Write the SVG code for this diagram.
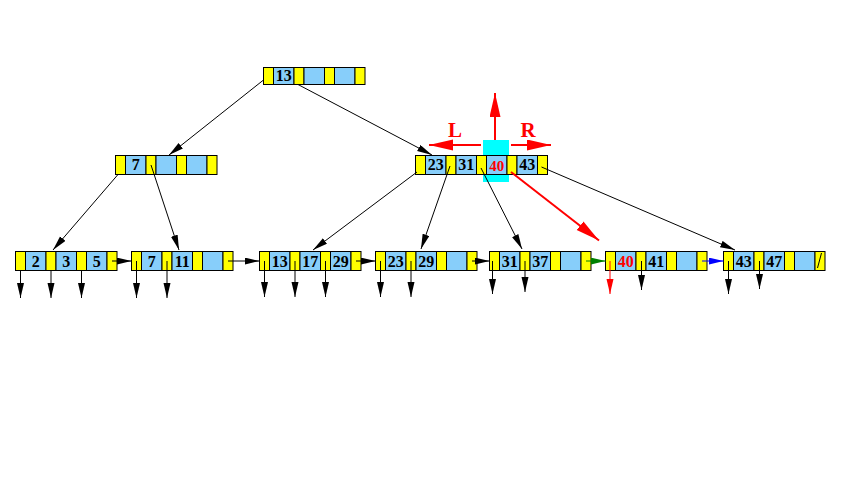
<svg xmlns="http://www.w3.org/2000/svg" width="852" height="481" viewBox="0 0 852 481">
<defs>
<style>
.y{fill:#ffff00;stroke:#000;stroke-width:1}
.b{fill:#87cefa;stroke:#000;stroke-width:1}
.t{font-family:"Liberation Serif","Times New Roman",serif;font-weight:bold;font-size:16px;text-anchor:middle;fill:#000}
.tr{fill:#ff0000}
.c{stroke:#000;stroke-width:1;fill:none}
.cr{stroke:#ff0000;stroke-width:2;fill:none}
.lbl{font-family:"Liberation Serif","Times New Roman",serif;font-weight:bold;font-size:21px;fill:#ff0000;text-anchor:middle}
</style>
<marker id="ah" markerUnits="userSpaceOnUse" markerWidth="16" markerHeight="8" refX="15" refY="3.5" orient="auto"><path d="M0,0 L15,3.5 L0,7 z" fill="#000"/></marker>
<marker id="ahr" markerUnits="userSpaceOnUse" markerWidth="16" markerHeight="8" refX="15" refY="3.5" orient="auto"><path d="M0,0 L15,3.5 L0,7 z" fill="#ff0000"/></marker>
<marker id="ahg" markerUnits="userSpaceOnUse" markerWidth="16" markerHeight="8" refX="15" refY="3.5" orient="auto"><path d="M0,0 L15,3.5 L0,7 z" fill="#008000"/></marker>
<marker id="ahb" markerUnits="userSpaceOnUse" markerWidth="16" markerHeight="8" refX="15" refY="3.5" orient="auto"><path d="M0,0 L15,3.5 L0,7 z" fill="#0000ff"/></marker>
<marker id="big" markerUnits="userSpaceOnUse" markerWidth="25" markerHeight="12" refX="24" refY="5.5" orient="auto"><path d="M0,0 L24,5.5 L0,11 z" fill="#ff0000"/></marker>
</defs>
<rect width="852" height="481" fill="#fff"/>

<g id="highlight"><rect x="483" y="140" width="26" height="42" fill="#00ffff"/></g>

<g id="root">
<rect class="y" x="263.5" y="67.5" width="10" height="17"/>
<rect class="b" x="273.5" y="67.5" width="20.5" height="17"/>
<rect class="y" x="294" y="67.5" width="10" height="17"/>
<rect class="b" x="304" y="67.5" width="20.5" height="17"/>
<rect class="y" x="324.5" y="67.5" width="10" height="17"/>
<rect class="b" x="334.5" y="67.5" width="20.5" height="17"/>
<rect class="y" x="355" y="67.5" width="10" height="17"/>
<text class="t" x="283.75" y="81">13</text>
</g>

<g id="inner-left">
<rect class="y" x="115.5" y="155.5" width="10" height="19"/>
<rect class="b" x="125.5" y="155.5" width="20.5" height="19"/>
<rect class="y" x="146" y="155.5" width="10" height="19"/>
<rect class="b" x="156" y="155.5" width="20.5" height="19"/>
<rect class="y" x="176.5" y="155.5" width="10" height="19"/>
<rect class="b" x="186.5" y="155.5" width="20.5" height="19"/>
<rect class="y" x="207" y="155.5" width="10" height="19"/>
<text class="t" x="135.75" y="169.5">7</text>
</g>

<g id="inner-right">
<rect class="y" x="415.5" y="155.5" width="10" height="19"/>
<rect class="b" x="425.5" y="155.5" width="20.5" height="19"/>
<rect class="y" x="446" y="155.5" width="10" height="19"/>
<rect class="b" x="456" y="155.5" width="20.5" height="19"/>
<rect class="y" x="476.5" y="155.5" width="10" height="19"/>
<rect class="b" x="486.5" y="155.5" width="20.5" height="19"/>
<rect class="y" x="507" y="155.5" width="10" height="19"/>
<rect class="b" x="517" y="155.5" width="20.5" height="19"/>
<rect class="y" x="537.5" y="155.5" width="10" height="19"/>
<text class="t" x="435.75" y="169.5">23</text>
<text class="t" x="466.25" y="169.5">31</text>
<text class="t tr" x="496.75" y="171" style="font-size:15px">40</text>
<text class="t" x="527.25" y="169.5">43</text>
</g>

<g id="leaf1">
<rect class="y" x="15.5" y="251.5" width="10" height="19"/>
<rect class="b" x="25.5" y="251.5" width="20.5" height="19"/>
<rect class="y" x="46" y="251.5" width="10" height="19"/>
<rect class="b" x="56" y="251.5" width="20.5" height="19"/>
<rect class="y" x="76.5" y="251.5" width="10" height="19"/>
<rect class="b" x="86.5" y="251.5" width="20.5" height="19"/>
<rect class="y" x="107" y="251.5" width="10" height="19"/>
<text class="t" x="35.75" y="266.5">2</text>
<text class="t" x="66.25" y="266.5">3</text>
<text class="t" x="96.75" y="266.5">5</text>
</g>

<g id="leaf2">
<rect class="y" x="131.5" y="251.5" width="10" height="19"/>
<rect class="b" x="141.5" y="251.5" width="20.5" height="19"/>
<rect class="y" x="162" y="251.5" width="10" height="19"/>
<rect class="b" x="172" y="251.5" width="20.5" height="19"/>
<rect class="y" x="192.5" y="251.5" width="10" height="19"/>
<rect class="b" x="202.5" y="251.5" width="20.5" height="19"/>
<rect class="y" x="223" y="251.5" width="10" height="19"/>
<text class="t" x="151.75" y="266.5">7</text>
<text class="t" x="182.25" y="266.5">11</text>
</g>

<g id="leaf3">
<rect class="y" x="259.5" y="251.5" width="10" height="19"/>
<rect class="b" x="269.5" y="251.5" width="20.5" height="19"/>
<rect class="y" x="290" y="251.5" width="10" height="19"/>
<rect class="b" x="300" y="251.5" width="20.5" height="19"/>
<rect class="y" x="320.5" y="251.5" width="10" height="19"/>
<rect class="b" x="330.5" y="251.5" width="20.5" height="19"/>
<rect class="y" x="351" y="251.5" width="10" height="19"/>
<text class="t" x="279.75" y="266.5">13</text>
<text class="t" x="310.25" y="266.5">17</text>
<text class="t" x="340.75" y="266.5">29</text>
</g>

<g id="leaf4">
<rect class="y" x="375.5" y="251.5" width="10" height="19"/>
<rect class="b" x="385.5" y="251.5" width="20.5" height="19"/>
<rect class="y" x="406" y="251.5" width="10" height="19"/>
<rect class="b" x="416" y="251.5" width="20.5" height="19"/>
<rect class="y" x="436.5" y="251.5" width="10" height="19"/>
<rect class="b" x="446.5" y="251.5" width="20.5" height="19"/>
<rect class="y" x="467" y="251.5" width="10" height="19"/>
<text class="t" x="395.75" y="266.5">23</text>
<text class="t" x="426.25" y="266.5">29</text>
</g>

<g id="leaf5">
<rect class="y" x="489.5" y="251.5" width="10" height="19"/>
<rect class="b" x="499.5" y="251.5" width="20.5" height="19"/>
<rect class="y" x="520" y="251.5" width="10" height="19"/>
<rect class="b" x="530" y="251.5" width="20.5" height="19"/>
<rect class="y" x="550.5" y="251.5" width="10" height="19"/>
<rect class="b" x="560.5" y="251.5" width="20.5" height="19"/>
<rect class="y" x="581" y="251.5" width="10" height="19"/>
<text class="t" x="509.75" y="266.5">31</text>
<text class="t" x="540.25" y="266.5">37</text>
</g>

<g id="leaf6">
<rect class="y" x="605.5" y="251.5" width="10" height="19"/>
<rect class="b" x="615.5" y="251.5" width="20.5" height="19"/>
<rect class="y" x="636" y="251.5" width="10" height="19"/>
<rect class="b" x="646" y="251.5" width="20.5" height="19"/>
<rect class="y" x="666.5" y="251.5" width="10" height="19"/>
<rect class="b" x="676.5" y="251.5" width="20.5" height="19"/>
<rect class="y" x="697" y="251.5" width="10" height="19"/>
<text class="t tr" x="625.75" y="266.5">40</text>
<text class="t" x="656.25" y="266.5">41</text>
</g>

<g id="leaf7">
<rect class="y" x="723.5" y="251.5" width="10" height="19"/>
<rect class="b" x="733.5" y="251.5" width="20.5" height="19"/>
<rect class="y" x="754" y="251.5" width="10" height="19"/>
<rect class="b" x="764" y="251.5" width="20.5" height="19"/>
<rect class="y" x="784.5" y="251.5" width="10" height="19"/>
<rect class="b" x="794.5" y="251.5" width="20.5" height="19"/>
<rect class="y" x="815" y="251.5" width="10" height="19"/>
<text class="t" x="743.75" y="266.5">43</text>
<text class="t" x="774.25" y="266.5">47</text>
<line x1="817.5" y1="268" x2="821.5" y2="253" stroke="#000" stroke-width="1"/>
</g>

<g id="connectors">
<line class="c" x1="263.5" y1="80" x2="169" y2="155" marker-end="url(#ah)"/>
<line class="c" x1="298" y1="84.5" x2="432" y2="155" marker-end="url(#ah)"/>
<line class="c" x1="118" y1="174.5" x2="53" y2="250" marker-end="url(#ah)"/>
<line class="c" x1="151" y1="165" x2="179" y2="250" marker-end="url(#ah)"/>
<line class="c" x1="417" y1="172" x2="313" y2="250" marker-end="url(#ah)"/>
<line class="c" x1="450" y1="166" x2="421" y2="249" marker-end="url(#ah)"/>
<line class="c" x1="481" y1="168" x2="522" y2="249" marker-end="url(#ah)"/>
<line class="c" x1="541.5" y1="167" x2="735" y2="250" marker-end="url(#ah)"/>
<line class="cr" x1="511" y1="172" x2="599" y2="240.5" marker-end="url(#big)"/>
<line class="cr" x1="495" y1="140" x2="495" y2="93" marker-end="url(#big)"/>
<line class="cr" x1="481" y1="145" x2="429" y2="145" marker-end="url(#big)"/>
<line class="cr" x1="511" y1="145" x2="551" y2="145" marker-end="url(#big)"/>

<line class="c" x1="20.5" y1="270.5" x2="20.5" y2="298" marker-end="url(#ah)"/>
<line class="c" x1="51" y1="270.5" x2="51" y2="298" marker-end="url(#ah)"/>
<line class="c" x1="81.5" y1="270.5" x2="81.5" y2="298" marker-end="url(#ah)"/>
<line class="c" x1="136.5" y1="261" x2="136.5" y2="298" marker-end="url(#ah)"/>
<line class="c" x1="167" y1="261" x2="167" y2="298" marker-end="url(#ah)"/>
<line class="c" x1="264.5" y1="261" x2="264.5" y2="297" marker-end="url(#ah)"/>
<line class="c" x1="295" y1="261" x2="295" y2="297" marker-end="url(#ah)"/>
<line class="c" x1="325.5" y1="261" x2="325.5" y2="297" marker-end="url(#ah)"/>
<line class="c" x1="380.5" y1="261" x2="380.5" y2="297" marker-end="url(#ah)"/>
<line class="c" x1="411" y1="261" x2="411" y2="297" marker-end="url(#ah)"/>
<line class="c" x1="492.5" y1="261" x2="492.5" y2="294" marker-end="url(#ah)"/>
<line class="c" x1="525" y1="261" x2="525" y2="292" marker-end="url(#ah)"/>
<line x1="610" y1="261" x2="610" y2="294" stroke="#ff0000" stroke-width="1" marker-end="url(#ahr)"/>
<line class="c" x1="641.5" y1="261" x2="641.5" y2="290" marker-end="url(#ah)"/>
<line class="c" x1="728.5" y1="261" x2="728.5" y2="294" marker-end="url(#ah)"/>
<line class="c" x1="759.5" y1="261" x2="759.5" y2="289" marker-end="url(#ah)"/>

<line class="c" x1="112" y1="261" x2="131.5" y2="261" marker-end="url(#ah)"/>
<line class="c" x1="228" y1="261" x2="259.5" y2="261" marker-end="url(#ah)"/>
<line class="c" x1="356" y1="261" x2="375.5" y2="261" marker-end="url(#ah)"/>
<line class="c" x1="472" y1="261" x2="489.5" y2="261" marker-end="url(#ah)"/>
<line x1="586" y1="261" x2="605.5" y2="261" stroke="#008000" stroke-width="1" marker-end="url(#ahg)"/>
<line x1="702" y1="261" x2="723.5" y2="261" stroke="#0000ff" stroke-width="1" marker-end="url(#ahb)"/>
</g>

<g id="labels">
<text class="lbl" x="455" y="137">L</text>
<text class="lbl" x="528" y="137">R</text>
</g>
</svg>
